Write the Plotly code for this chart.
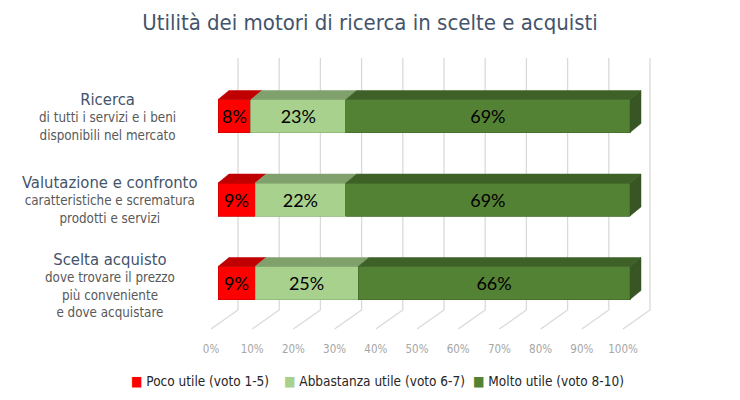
import plotly.graph_objects as go

# ---------------- data ----------------
title = "Utilità dei motori di ricerca in scelte e acquisti"
cat_titles = ["Ricerca", "Valutazione e confronto", "Scelta acquisto"]
cat_subtitles = [
    "di tutti i servizi e i beni<br>disponibili nel mercato",
    "caratteristiche e scrematura<br>prodotti e servizi",
    "dove trovare il prezzo<br>più conveniente<br>e dove acquistare",
]
series_names = ["Poco utile (voto 1-5)", "Abbastanza utile (voto 6-7)", "Molto utile (voto 8-10)"]
poco = [8, 9, 9]
abbastanza = [23, 22, 25]
molto = [69, 69, 66]
tick_vals = [0, 10, 20, 30, 40, 50, 60, 70, 80, 90, 100]
tick_labels = ["0%", "10%", "20%", "30%", "40%", "50%", "60%", "70%", "80%", "90%", "100%"]

# ---------------- style ----------------
FONT = "Tahoma, 'DejaVu Sans Condensed', 'DejaVu Sans', sans-serif"
front_colors = ["#ff0000", "#a9d18e", "#548235"]
edge_colors = ["#d00000", "#8fb878", "#456d2b"]
top_colors = ["#c00000", "#80a16c", "#3d6126"]
side_color = "#375623"
grid_color = "#d9d9d9"

W, H = 740, 400
ML, MR, MT, MB = 180, 60, 50, 62
PX_X = 4.12            # pixels per percent
X0_PX = 218            # pixel of 0%
PX_Y = 83.5            # pixels per category step
Y0_PX = 116            # pixel of first category centre
plot_w = W - ML - MR
plot_h = H - MT - MB
x_range = [(ML - X0_PX) / PX_X, (ML + plot_w - X0_PX) / PX_X]
y_range = [(MT + plot_h - Y0_PX) / PX_Y, (MT - Y0_PX) / PX_Y]  # reversed

bar_w = 33 / PX_Y
dx = 11 / PX_X
dy = 9 / PX_Y
back_dx = 20 / PX_X
grid_top = (58 - Y0_PX) / PX_Y
grid_floor = (310 - Y0_PX) / PX_Y
grid_front = (329 - Y0_PX) / PX_Y
front_dx = -7 / PX_X

series = [poco, abbastanza, molto]
cats = list(range(len(cat_titles)))

fig = go.Figure()

# back-wall gridlines and floor diagonals (base axes, behind the bars)
gx, gy = [], []
for v in tick_vals:
    gx += [v + back_dx, v + back_dx, v + front_dx, None]
    gy += [grid_top, grid_floor, grid_front, None]
fig.add_trace(go.Scatter(x=gx, y=gy, mode="lines", line=dict(color=grid_color, width=1.3),
                         hoverinfo="skip", showlegend=False, xaxis="x", yaxis="y"))

# front faces of the bars (overlay axes)
for name, vals, fc, ec in zip(series_names, series, front_colors, edge_colors):
    fig.add_trace(go.Bar(
        name=name, y=cats, x=vals, orientation="h", width=bar_w,
        marker=dict(color=fc, line=dict(color=ec, width=0.8)),
        texttemplate="%{x}%", textposition="inside", insidetextanchor="middle",
        textangle=0, constraintext="none",
        textfont=dict(family="Lato, Carlito, sans-serif", size=18, color="#000000"),
        xaxis="x2", yaxis="y2", showlegend=False,
    ))

# top faces
cum = [0] * len(cats)
for vals, tc in zip(series, top_colors):
    px_, py_ = [], []
    for i in cats:
        x0, x1 = cum[i], cum[i] + vals[i]
        yt = i - bar_w / 2
        px_ += [x0, x1, x1 + dx, x0 + dx, x0, None]
        py_ += [yt, yt, yt - dy, yt - dy, yt, None]
        cum[i] = x1
    fig.add_trace(go.Scatter(x=px_, y=py_, mode="lines", fill="toself", fillcolor=tc,
                             line=dict(color=tc, width=0.5), hoverinfo="skip",
                             showlegend=False, xaxis="x2", yaxis="y2"))

# right side faces
sx, sy = [], []
for i in cats:
    xe = cum[i]
    yt, yb = i - bar_w / 2, i + bar_w / 2
    sx += [xe, xe + dx, xe + dx, xe, xe, None]
    sy += [yt, yt - dy, yb - dy, yb, yt, None]
fig.add_trace(go.Scatter(x=sx, y=sy, mode="lines", fill="toself", fillcolor=side_color,
                         line=dict(color=side_color, width=0.5), hoverinfo="skip",
                         showlegend=False, xaxis="x2", yaxis="y2"))

# category labels
label_x_px = [107, 110, 110]
label_y_shift = [0, 0, -2]
for i, (t, s) in enumerate(zip(cat_titles, cat_subtitles)):
    fig.add_annotation(
        xref="paper", yref="y", x=(label_x_px[i] - ML) / plot_w, y=i, yshift=label_y_shift[i],
        text=f"<span style='font-size:16.5px;color:#44546a'>{t}</span><br>{s}",
        showarrow=False, align="center", xanchor="center", yanchor="middle",
        font=dict(family=FONT, size=13.3, color="#595959"),
    )

# legend (key square + label per series)
legend_x_px = [129, 282, 471]
legend_y = (MT + plot_h - 381) / plot_h
for name, fc, lx in zip(series_names, front_colors, legend_x_px):
    fig.add_annotation(
        xref="paper", yref="paper", x=(lx - ML) / plot_w, y=legend_y,
        text=f"<span style='color:{fc}'>■</span> {name}",
        showarrow=False, xanchor="left", yanchor="middle", align="left",
        font=dict(family=FONT, size=13.5, color="#262626"),
    )

fig.update_layout(
    width=W, height=H,
    margin=dict(l=ML, r=MR, t=MT, b=MB, autoexpand=False),
    paper_bgcolor="#ffffff", plot_bgcolor="rgba(0,0,0,0)",
    font=dict(family=FONT, color="#404040"),
    barmode="stack",
    title=dict(text=title, x=0.5, xref="container", xanchor="center",
               y=1 - 22 / H, yref="container", yanchor="middle",
               font=dict(family=FONT, size=22, color="#44546a")),
    xaxis=dict(range=x_range, tickvals=tick_vals, ticktext=tick_labels,
               showgrid=False, zeroline=False, showline=False, ticks="",
               ticklabelshift=-7, ticklabelstandoff=2,
               tickfont=dict(family=FONT, size=11.5, color="#a6a6a6"), fixedrange=True),
    yaxis=dict(range=y_range, visible=False, fixedrange=True),
    xaxis2=dict(range=x_range, overlaying="x", visible=False, fixedrange=True),
    yaxis2=dict(range=y_range, overlaying="y", visible=False, fixedrange=True),
    showlegend=False,
)

fig.write_html("out.html", post_script="document.body.style.margin='0';",
               config={"displayModeBar": False})
